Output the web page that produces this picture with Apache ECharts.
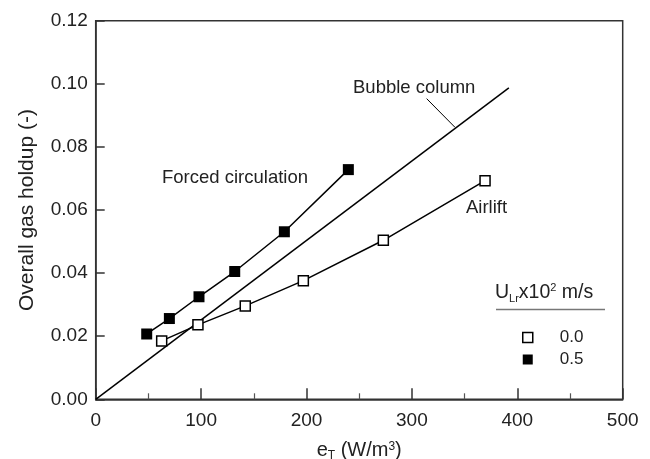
<!DOCTYPE html>
<html><head><meta charset="utf-8">
<script src="https://cdn.jsdelivr.net/npm/echarts@6/dist/echarts.min.js"></script>
<style>html,body{margin:0;padding:0;background:#fff}#c{width:650px;height:459px}</style>
</head><body><div id="c"></div>
<script>
const eForced = [48.4, 69.9, 98, 131.9, 179, 239.7];
const holdForced = [0.0207, 0.0256, 0.0325, 0.0405, 0.0531, 0.0728];
const eAirlift = [62.6, 97, 141.9, 197, 272.9, 369.4];
const holdAirlift = [0.0185, 0.0236, 0.0296, 0.0376, 0.0504, 0.0693];
const eBubble = [0, 392];
const holdBubble = [0, 0.0987];
const legendNames = ['0.0', '0.5'];
const xTicks = [0, 100, 200, 300, 400, 500];
const yTicks = [0, 0.02, 0.04, 0.06, 0.08, 0.10, 0.12];

const zip = (a, b) => a.map((v, i) => [v, b[i]]);
const FONT = 'Liberation Sans, Arial, sans-serif';
const chart = echarts.init(document.getElementById('c'));
chart.setOption({
  animation: false,
  grid: { left: 95.7, right: 27.3, top: 20.7, bottom: 59.7, show: true, borderColor: '#333', borderWidth: 1.5,
          containLabel: false, outerBoundsMode: 'none' },
  xAxis: {
    type: 'value', min: xTicks[0], max: xTicks[xTicks.length - 1], interval: 100,
    axisLine: { lineStyle: { color: '#333', width: 1.5 } },
    axisTick: { inside: true, length: 11, lineStyle: { color: '#333', width: 1.5 } },
    minorTick: { show: true, splitNumber: 2, length: 6, lineStyle: { color: '#555', width: 1.2 } },
    splitLine: { show: false },
    axisLabel: { color: '#222', fontSize: 19, fontFamily: FONT, margin: 12 },
    name: '{b|e}{s|T}{b| (W/m}{p|3}{b|)}', nameLocation: 'middle', nameGap: 41,
    nameTextStyle: { rich: {
      b: { fontSize: 20, fontFamily: FONT, color: '#222' },
      s: { fontSize: 12, fontFamily: FONT, color: '#222', verticalAlign: 'bottom', padding: [9, 0, 0, 0] },
      p: { fontSize: 12, fontFamily: FONT, color: '#222', verticalAlign: 'top', padding: [0, 0, 9, 0] }
    } }
  },
  yAxis: {
    type: 'value', min: yTicks[0], max: yTicks[yTicks.length - 1], interval: 0.02,
    axisLine: { lineStyle: { color: '#333', width: 1.5 } },
    axisTick: { inside: true, length: 9, lineStyle: { color: '#333', width: 1.5 } },
    splitLine: { show: false },
    axisLabel: { color: '#222', fontSize: 19, fontFamily: FONT, margin: 8, formatter: v => v.toFixed(2) },
    name: 'Overall gas holdup (-)', nameLocation: 'middle', nameGap: 58,
    nameTextStyle: { fontSize: 21, fontFamily: FONT, color: '#222' }
  },
  legend: {
    orient: 'vertical', left: 517, top: 324, itemWidth: 10, itemHeight: 10, itemGap: 5,
    textStyle: { fontSize: 17, fontFamily: FONT, color: '#222', padding: [0, 0, 0, 22] },
    data: [
      { name: legendNames[0], icon: 'rect', itemStyle: { color: '#fff', borderColor: '#000', borderWidth: 1.5 } },
      { name: legendNames[1], icon: 'rect', itemStyle: { color: '#000' } }
    ]
  },
  series: [
    {
      name: 'Bubble column', type: 'line', data: zip(eBubble, holdBubble), symbol: 'none',
      lineStyle: { color: '#000', width: 1.5 },
      markLine: { silent: true, symbol: 'none', label: { show: false },
        lineStyle: { color: '#000', width: 1, type: 'solid' },
        data: [[{ coord: [314, 0.0953] }, { coord: [340.9, 0.0862] }]] }
    },
    {
      name: legendNames[0], type: 'line', data: zip(eAirlift, holdAirlift), symbol: 'rect', symbolSize: 10,
      itemStyle: { color: '#fff', borderColor: '#000', borderWidth: 1.5 },
      lineStyle: { color: '#000', width: 1.5 }
    },
    {
      name: legendNames[1], type: 'line', data: zip(eForced, holdForced), symbol: 'rect', symbolSize: 11,
      itemStyle: { color: '#000' },
      lineStyle: { color: '#000', width: 1.5 }
    }
  ],
  graphic: [
    { type: 'text', left: 162, top: 168, style: { text: 'Forced circulation', fontSize: 18.5, fontFamily: FONT, fill: '#222' } },
    { type: 'text', left: 353, top: 78, style: { text: 'Bubble column', fontSize: 18.5, fontFamily: FONT, fill: '#222' } },
    { type: 'text', left: 466, top: 198, style: { text: 'Airlift', fontSize: 18.5, fontFamily: FONT, fill: '#222' } },
    { type: 'text', left: 495, top: 282, style: {
      text: '{b|U}{s|Lr}{b|x10}{p|2}{b| m/s}',
      rich: {
        b: { fontSize: 19.5, fontFamily: FONT, fill: '#222' },
        s: { fontSize: 11, fontFamily: FONT, fill: '#222', verticalAlign: 'bottom', padding: [11, 0, 0, 0] },
        p: { fontSize: 11, fontFamily: FONT, fill: '#222', verticalAlign: 'top', padding: [0, 0, 11, 0] }
      } } },
    { type: 'line', shape: { x1: 496, y1: 309.5, x2: 605, y2: 309.5 }, style: { stroke: '#777', lineWidth: 1.5 } }
  ]
});
</script></body></html>
